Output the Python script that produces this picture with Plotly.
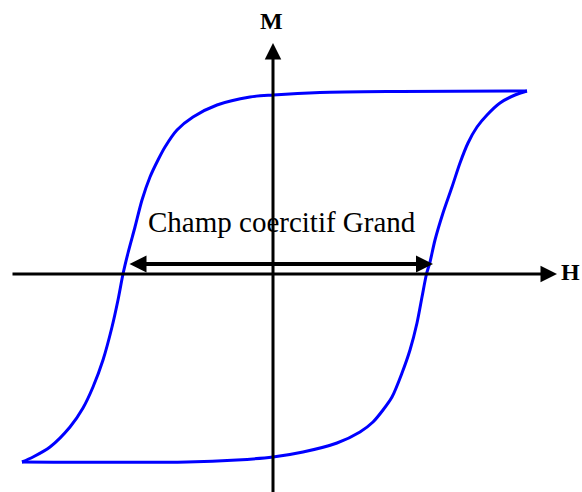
import plotly.graph_objects as go

# Descending branch (from positive saturation to negative saturation)
h_down = [5.08, 2.54, 0.94, 0.0, -0.46, -1.12, -1.60, -1.92, -2.16, -2.30, -2.46, -2.62,
          -2.76, -2.90, -3.00, -3.10, -3.22, -3.40, -3.60, -3.80, -4.06, -4.46, -4.80, -5.02]
m_down = [3.66, 3.65, 3.63, 3.58, 3.54, 3.38, 3.14, 2.88, 2.54, 2.28, 1.94, 1.48,
          0.94, 0.42, 0.0, -0.52, -1.06, -1.72, -2.26, -2.68, -3.06, -3.46, -3.66, -3.76]

# Ascending branch (from negative saturation to positive saturation)
h_up = [-5.02, -1.72, -0.72, 0.0, 0.60, 1.28, 1.74, 2.00, 2.20, 2.38, 2.58, 2.74, 2.88, 2.98,
        3.07, 3.14, 3.24, 3.40, 3.58, 3.74, 3.90, 4.08, 4.28, 4.54, 4.84, 5.08]
m_up = [-3.76, -3.76, -3.72, -3.66, -3.56, -3.38, -3.16, -2.96, -2.72, -2.46, -1.98, -1.52, -0.98, -0.46,
        0.0, 0.24, 0.68, 1.22, 1.74, 2.22, 2.62, 2.94, 3.18, 3.42, 3.58, 3.66]

coercive_left = -2.90
coercive_right = 3.20
label_text = "Champ coercitif Grand"
axis_labels = ["H", "M"]

x_range = [-5.46, 6.18]
y_range = [-4.36, 5.48]

blue = "#0000FF"
fig = go.Figure()
for hx, my in [(h_down, m_down), (h_up, m_up)]:
    fig.add_trace(go.Scatter(x=hx, y=my, mode="lines",
                             line=dict(color=blue, width=3, shape="spline", smoothing=0.8),
                             showlegend=False, hoverinfo="skip"))

annotations = [
    # H axis
    dict(x=5.68, y=0, ax=-5.24, ay=0, xref="x", yref="y", axref="x", ayref="y",
         showarrow=True, arrowhead=2, arrowwidth=3, arrowsize=1.1, arrowcolor="black", text=""),
    # M axis
    dict(x=0, y=4.62, ax=0, ay=-4.5, xref="x", yref="y", axref="x", ayref="y",
         showarrow=True, arrowhead=2, arrowwidth=3, arrowsize=1.1, arrowcolor="black", text=""),
    # coercive field double arrow
    dict(x=coercive_right, y=0.20, ax=coercive_left, ay=0.20, xref="x", yref="y", axref="x", ayref="y",
         showarrow=True, arrowhead=2, startarrowhead=2, arrowside="end+start",
         arrowwidth=4, arrowsize=0.85, startarrowsize=0.85, arrowcolor="black", text=""),
    dict(x=0.17, y=1.04, xref="x", yref="y", text=label_text, showarrow=False,
         font=dict(family="Liberation Serif", size=29, color="black"), xanchor="center", yanchor="middle"),
    dict(x=5.94, y=0.04, xref="x", yref="y", text="<b>%s</b>" % axis_labels[0], showarrow=False,
         font=dict(family="Liberation Serif", size=24, color="black"), xanchor="center", yanchor="middle"),
    dict(x=-0.04, y=5.06, xref="x", yref="y", text="<b>%s</b>" % axis_labels[1], showarrow=False,
         font=dict(family="Liberation Serif", size=24, color="black"), xanchor="center", yanchor="middle"),
]

fig.update_layout(
    width=582, height=492, autosize=False,
    margin=dict(l=0, r=0, t=0, b=0),
    paper_bgcolor="white", plot_bgcolor="white",
    xaxis=dict(range=x_range, visible=False, fixedrange=True),
    yaxis=dict(range=y_range, visible=False, fixedrange=True),
    annotations=annotations,
)

fig.write_html("out.html", config={"displayModeBar": False},
               post_script="document.body.style.margin='0px';document.body.style.overflow='hidden';")
